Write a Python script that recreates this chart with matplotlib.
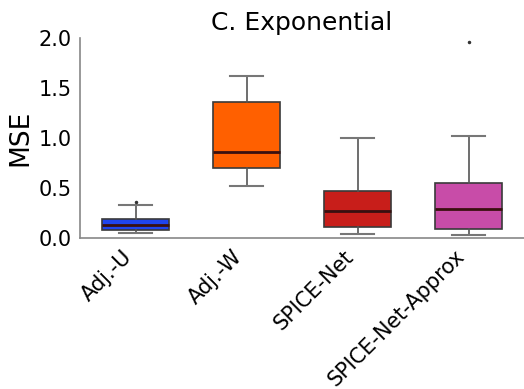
import matplotlib

matplotlib.use("Agg")
import matplotlib.pyplot as plt

# Valores
metodos = ["Adj.-U", "Adj.-W", "SPICE-Net", "SPICE-Net-Approx"]
medianas = [0.13, 0.86, 0.27, 0.29]
q1 = [0.08, 0.70, 0.11, 0.09]
q3 = [0.19, 1.36, 0.47, 0.55]
bigode_inf = [0.05, 0.52, 0.04, 0.035]
bigode_sup = [0.33, 1.62, 1.00, 1.02]
outliers = [[0.36], [], [], [1.96]]
cores = ["#1f45ef", "#ff6000", "#c81e1a", "#c84ca8"]

estatisticas = [
    {
        "label": nome,
        "med": med,
        "q1": a,
        "q3": b,
        "whislo": lo,
        "whishi": hi,
        "fliers": fl,
    }
    for nome, med, a, b, lo, hi, fl in zip(
        metodos, medianas, q1, q3, bigode_inf, bigode_sup, outliers
    )
]

figura = plt.figure(figsize=(5.24, 3.89), dpi=100)
eixo = figura.add_axes([0.153, 0.388, 0.847, 0.514])

caixas = eixo.bxp(
    estatisticas,
    positions=range(len(metodos)),
    widths=0.6,
    patch_artist=True,
    boxprops=dict(edgecolor="#3a3a3a", linewidth=1.2),
    medianprops=dict(color="#3a1010", linewidth=2),
    whiskerprops=dict(color="#555555", linewidth=1.2),
    capprops=dict(color="#777777", linewidth=1.5),
    flierprops=dict(marker="o", markersize=1.5, markerfacecolor="#333333",
                    markeredgecolor="#333333"),
)
for caixa, cor in zip(caixas["boxes"], cores):
    caixa.set_facecolor(cor)

eixo.set_xlim(-0.5, 3.5)
eixo.set_ylim(0, 2.0)
eixo.set_yticks([0.0, 0.5, 1.0, 1.5, 2.0])
eixo.set_yticklabels(["0.0", "0.5", "1.0", "1.5", "2.0"], fontsize=15)
eixo.set_xticks(range(len(metodos)))
eixo.set_xticklabels(metodos, rotation=45, ha="right", fontsize=15)
eixo.tick_params(length=0, pad=6)
eixo.set_ylabel("MSE", fontsize=19, labelpad=4)
eixo.set_title("C. Exponential", fontsize=18, pad=6)

for lado in ["top", "right"]:
    eixo.spines[lado].set_visible(False)
for lado in ["left", "bottom"]:
    eixo.spines[lado].set_color("#888888")
    eixo.spines[lado].set_linewidth(1.2)

figura.savefig("out.png", dpi=100)
plt.close(figura)
